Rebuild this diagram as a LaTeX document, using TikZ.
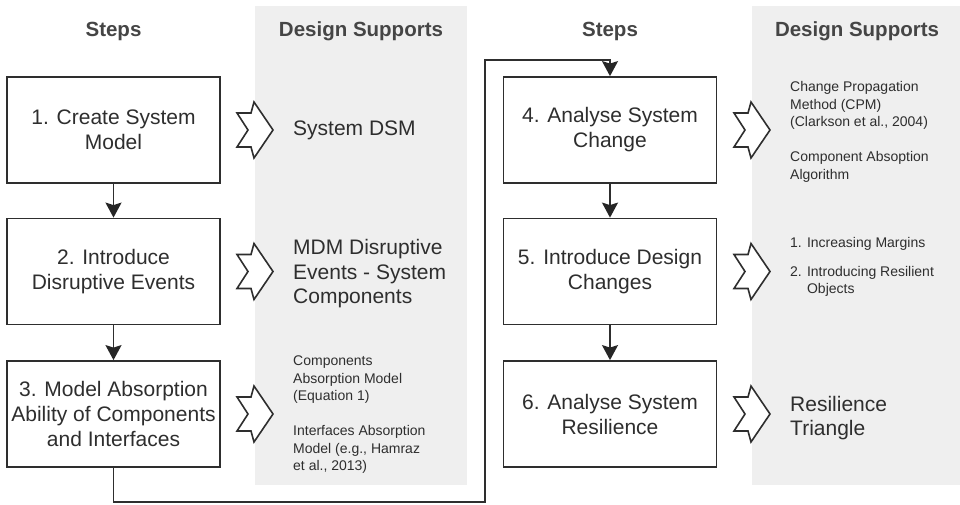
\documentclass[tikz,border=0pt]{standalone}
\usepackage{fontspec}
\setmainfont{Liberation Sans}
\usetikzlibrary{arrows.meta}
\definecolor{ink}{HTML}{2E2E2E}
\definecolor{head}{HTML}{454545}
\definecolor{panel}{HTML}{EFEFEF}
\tikzset{
  stepbox/.style={draw=ink, line width=1.8pt, fill=white, minimum width=213pt, minimum height=106pt,
    align=center, text=ink, inner sep=2pt, font=\fontsize{21}{25}\selectfont},
  header/.style={text=head, font=\bfseries\fontsize{20.5}{24}\selectfont, inner sep=0pt},
  bigsup/.style={anchor=west, align=left, text=ink, inner sep=0pt, font=\fontsize{21}{24.5}\selectfont},
  smallsup/.style={anchor=west, align=left, text=ink, inner sep=0pt, font=\fontsize{14}{17.5}\selectfont},
  conn/.style={draw=ink, line width=1.8pt, -{Stealth[length=15pt,width=16pt,inset=2.5pt,fill=black!85,color=black!85]}},
  chev/.pic={\draw[draw=ink, line width=1.6pt, fill=white, line join=miter]
     (0,-17) -- (14,-17) -- (17,-28) -- (36,0) -- (17,28) -- (14,17) -- (0,17) -- (11,0) -- cycle;}
}
\begin{document}
\begin{tikzpicture}[x=1pt,y=-1pt]
\useasboundingbox (0,0) rectangle (960,504);
\fill[white] (0,0) rectangle (960,504);
% panels
\fill[panel] (255,6) rectangle (467,485);
\fill[panel] (752,6) rectangle (960,485);
% headers
\node[header] (h1) at (113.5,31) {Steps};
\node[header] (h2) at (361,31) {Design Supports};
\node[header] (h3) at (610,31) {Steps};
\node[header] (h4) at (857,31) {Design Supports};
% step boxes
\node[stepbox] (b1) at (113.5,130) {1. Create System\\Model};
\node[stepbox] (b2) at (113.5,271.5) {2. Introduce\\Disruptive Events};
\node[stepbox] (b3) at (113.5,414) {3. Model Absorption\\Ability of Components\\and Interfaces};
\node[stepbox] (b4) at (610,130) {4. Analyse System\\Change};
\node[stepbox] (b5) at (610,271.5) {5. Introduce Design\\Changes};
\node[stepbox] (b6) at (610,414) {6. Analyse System\\Resilience};
% connectors
\draw[conn] (b1) -- (b2);
\draw[conn] (b2) -- (b3);
\draw[conn] (b4) -- (b5);
\draw[conn] (b5) -- (b6);
\coordinate (c1) at (485,502);
\coordinate (c2) at (485,60);
\draw[conn] (b3.south) |- (c1) -- (c2) -| (b4.north);
% chevrons
\pic at (237,130) {chev};
\pic at (237,271.5) {chev};
\pic at (237,414) {chev};
\pic at (734,130) {chev};
\pic at (734,271.5) {chev};
\pic at (734,414) {chev};
% supports
\node[bigsup] (s1) at (293,130) {System DSM};
\node[bigsup] (s2) at (293,274) {MDM Disruptive\\Events - System\\Components};
\node[smallsup] (s3) at (293,415) {Components\\Absorption Model\\(Equation 1)\\[17.5pt]Interfaces Absorption\\Model (e.g., Hamraz\\et al., 2013)};
\node[smallsup] (s4) at (790,132) {Change Propagation\\Method (CPM)\\(Clarkson et al., 2004)\\[17.5pt]Component Absoption\\Algorithm};
\node[smallsup] (s5) at (790,267) {1. Increasing Margins\\[11pt]2. Introducing Resilient\\\phantom{2. }Objects};
\node[bigsup] (s6) at (790,418) {Resilience\\Triangle};
\end{tikzpicture}
\end{document}
